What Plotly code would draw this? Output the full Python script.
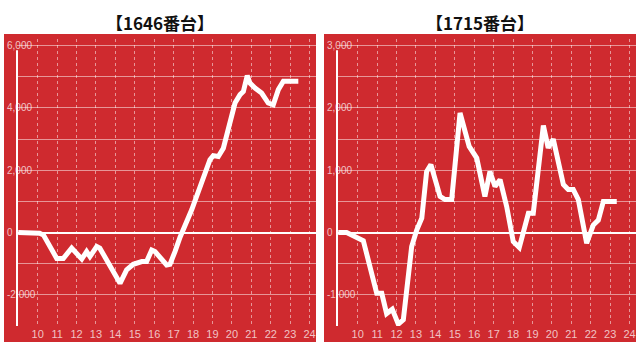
import plotly.graph_objects as go

# ---- data ----
titles = ["【1646番台】", "【1715番台】"]

hours_1646 = [9.0, 10.1, 10.3, 10.98, 11.32, 11.75, 12.27, 12.52, 12.69, 13.04, 13.2,
              13.81, 14.24, 14.58, 14.92, 15.36, 15.61, 15.87, 16.04, 16.64, 16.81,
              17.07, 17.33, 17.93, 18.19, 18.45, 18.87, 19.04, 19.3, 19.56, 19.9,
              20.16, 20.42, 20.59, 20.79, 20.93, 21.19, 21.53, 21.87, 22.13, 22.39,
              22.65, 23.42]
values_1646 = [0, -20, -80, -830, -830, -500, -850, -610, -770, -450, -500,
               -1200, -1630, -1200, -1020, -930, -930, -560, -610, -1040, -1020,
               -610, -150, 730, 1160, 1590, 2340, 2470, 2440, 2710, 3520,
               4160, 4430, 4530, 5040, 4800, 4640, 4480, 4160, 4100, 4590,
               4860, 4860]

hours_1715 = [9.0, 9.43, 10.29, 10.98, 11.24, 11.49, 11.78, 12.09, 12.35, 12.78,
              13.04, 13.3, 13.55, 13.77, 14.24, 14.5, 14.84, 15.27, 15.74, 16.13,
              16.55, 16.81, 17.07, 17.33, 17.67, 18.01, 18.32, 18.79, 19.04, 19.56,
              19.81, 20.07, 20.59, 20.84, 21.1, 21.36, 21.79, 22.13, 22.39, 22.65,
              23.34]
values_1715 = [0, 0, -130, -975, -975, -1300, -1230, -1470, -1400, -225,
               40, 230, 980, 1090, 580, 530, 530, 1920, 1383, 1196,
               580, 980, 740, 850, 420, -145, -240, 310, 310, 1720,
               1360, 1500, 770, 690, 690, 530, -170, 120, 200, 500,
               500]

x_ticks = list(range(10, 25))
y_ticks_1646 = [-3000, -2000, -1000, 0, 1000, 2000, 3000, 4000, 5000, 6000]
y_text_1646 = ["", "-2,000", "", "0", "", "2,000", "", "4,000", "", "6,000"]
y_ticks_1715 = [-1500, -1000, -500, 0, 500, 1000, 1500, 2000, 2500, 3000]
y_text_1715 = ["", "-1,000", "", "0", "", "1,000", "", "2,000", "", "3,000"]
y_range_1646 = [-3000, 6000]
y_range_1715 = [-1500, 3000]

# ---- style ----
RED = "#cf2a2f"
GRID = "rgba(255,255,255,0.5)"
LABEL = "rgba(255,255,255,0.72)"
W, H = 640, 352
TOP_PX, BOT_PX = 45.7, 326.0      # pixel rows of range top / bottom
PAD_PX = 7.0                      # extra plot height above top value (room for label)

fig = go.Figure()
fig.add_trace(go.Scatter(x=hours_1646, y=values_1646, mode="lines",
                         line=dict(color="white", width=5), xaxis="x", yaxis="y",
                         showlegend=False, hoverinfo="skip"))
fig.add_trace(go.Scatter(x=hours_1715, y=values_1715, mode="lines",
                         line=dict(color="white", width=5), xaxis="x2", yaxis="y2",
                         showlegend=False, hoverinfo="skip"))

ydom = [(H - BOT_PX) / H, (H - TOP_PX + PAD_PX) / H]
xrange_ = [8.935, 24.33]


def padded(rng):
    per_px = (rng[1] - rng[0]) / (BOT_PX - TOP_PX)
    return [rng[0], rng[1] + PAD_PX * per_px]


def xax(domain, anchor):
    return dict(domain=domain, anchor=anchor, range=xrange_, tickmode="array",
                tickvals=x_ticks, ticktext=[str(v) for v in x_ticks],
                showgrid=True, gridcolor=GRID, gridwidth=1, griddash="dot",
                zeroline=False, showline=False, ticks="",
                tickfont=dict(family="Liberation Sans, Arial", size=11, color=LABEL),
                fixedrange=True)


def yax(anchor, rng, tv, tt):
    return dict(domain=ydom, anchor=anchor, range=padded(rng), tickmode="array",
                tickvals=tv, ticktext=tt, showgrid=True, gridcolor=GRID, gridwidth=1,
                zeroline=True, zerolinecolor="white", zerolinewidth=2,
                showline=False, ticks="",
                ticklabelposition="inside", ticklabelstandoff=-13,
                tickfont=dict(family="Liberation Sans, Arial", size=10, color=LABEL),
                fixedrange=True)


shapes = []
for x0, x1 in [(4, 316), (324, 636)]:
    shapes.append(dict(type="rect", xref="paper", yref="paper",
                       x0=x0 / W, x1=x1 / W, y0=10 / H, y1=(H - 34) / H,
                       fillcolor=RED, line=dict(width=0), layer="below"))
# vertical axis lines (start just below the top label, as in the original)
for ax, rng in [("", y_range_1646), ("2", y_range_1715)]:
    per_px = (rng[1] - rng[0]) / (BOT_PX - TOP_PX)
    shapes.append(dict(type="line", xref="x%s domain" % ax, yref="y%s" % ax,
                       x0=0, x1=0, y0=rng[0], y1=rng[1] - 4.5 * per_px,
                       line=dict(color="white", width=2), layer="above"))

annotations = []
for cx, t in zip([160, 480], titles):
    annotations.append(dict(text="<b>" + t + "</b>", x=cx / W, y=1 - 23 / H,
                            xref="paper", yref="paper", showarrow=False,
                            xanchor="center", yanchor="middle",
                            font=dict(family="Noto Sans CJK JP", size=17, color="#111111")))

fig.update_layout(
    width=W, height=H, margin=dict(l=0, r=0, t=0, b=0),
    paper_bgcolor="white", plot_bgcolor="rgba(0,0,0,0)",
    xaxis=xax([17 / W, 316 / W], "y"),
    xaxis2=xax([337 / W, 636 / W], "y2"),
    yaxis=yax("x", y_range_1646, y_ticks_1646, y_text_1646),
    yaxis2=yax("x2", y_range_1715, y_ticks_1715, y_text_1715),
    shapes=shapes, annotations=annotations,
)

fig.write_html("out.html", config={"displayModeBar": False})
